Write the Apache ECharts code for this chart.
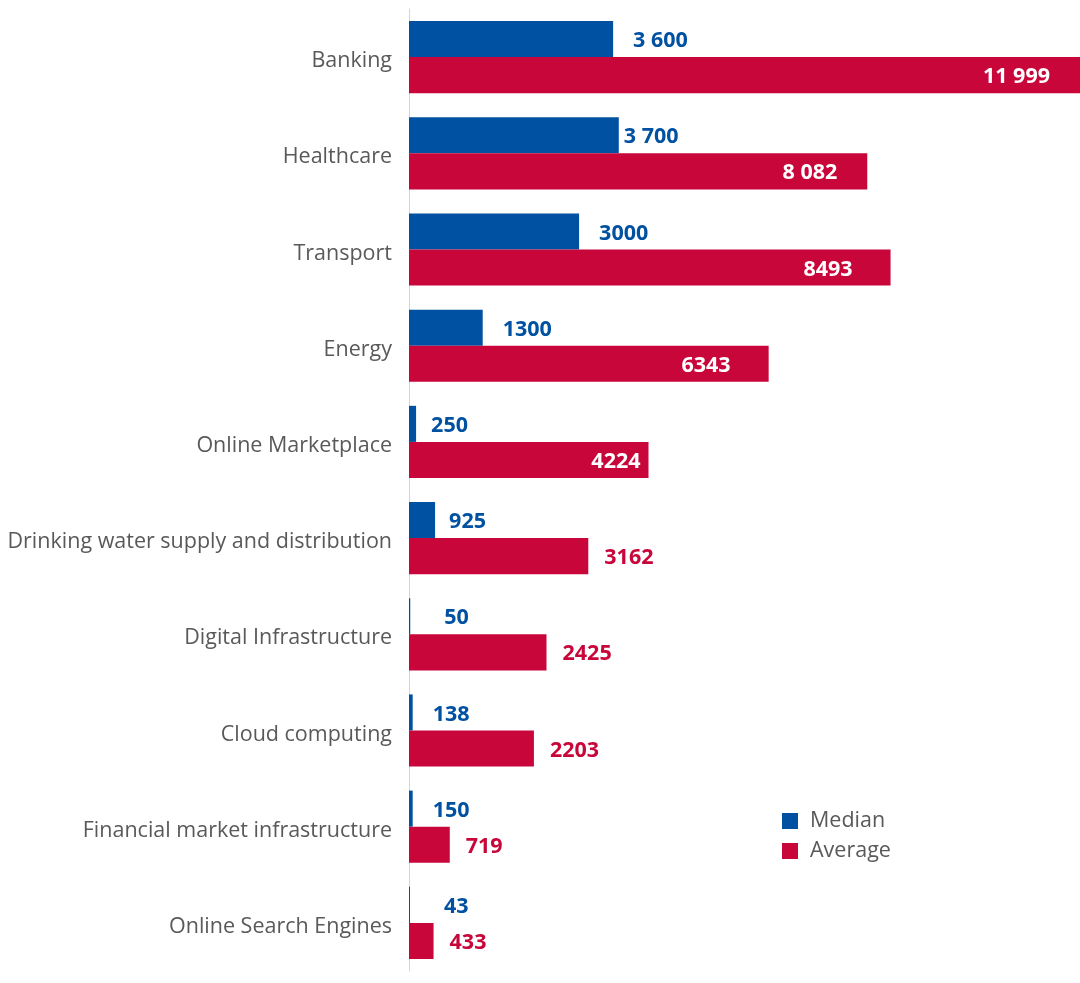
<!DOCTYPE html>
<html><head><meta charset="utf-8">
<script src="https://cdn.jsdelivr.net/npm/echarts@6/dist/echarts.min.js"></script>
<style>html,body{margin:0;padding:0;background:#fff}#c{width:1080px;height:983px}</style>
</head><body><div id="c"></div>
<script>
const categories = ['Banking','Healthcare','Transport','Energy','Online Marketplace','Drinking water supply and distribution','Digital Infrastructure','Cloud computing','Financial market infrastructure','Online Search Engines'];
// bar lengths as drawn in the picture
const medianValues = [3600,3700,3000,1300,125,460,22,65,65,18];
const averageValues = [11999,8082,8493,6343,4224,3162,2425,2203,719,433];
// printed data labels
const medianLabels = ['3 600','3 700','3000','1300','250','925','50','138','150','43'];
const averageLabels = ['11 999','8 082','8493','6343','4224','3162','2425','2203','719','433'];
const insideThreshold = 4000;

const BLUE = '#0051a1', RED = '#c8063a';
const FONT = '"Open Sans", "Noto Sans", sans-serif';
const FS = 21.5;
const medianLabelGap = {1: 5, 4: 15, 5: 14, 6: 34, 9: 34};
const averageInsideGap = {2: 38, 3: 38, 4: 8};

const medianData = medianValues.map((v,i)=>({
  value: v,
  label: { distance: medianLabelGap[i] !== undefined ? medianLabelGap[i] : 20 }
}));
const averageData = averageValues.map((v,i)=>{
  const inside = v >= insideThreshold;
  return {
    value: v,
    label: inside ? { position:'insideRight', color:'#fff', distance: averageInsideGap[i] !== undefined ? averageInsideGap[i] : 30 }
                  : { position:'right', color: RED, distance: 16 }
  };
});

const chart = echarts.init(document.getElementById('c'));
chart.setOption({
  animation: false,
  textStyle: { fontFamily: FONT },
  grid: { left: 409, right: 0, top: 9, bottom: 12, containLabel: false },
  legend: {
    orient: 'vertical', left: 782, top: 810, padding: 0,
    itemWidth: 16, itemHeight: 16, itemGap: 8,
    icon: 'rect',
    textStyle: { fontFamily: FONT, fontSize: FS, color: '#595959', lineHeight: 16, padding:[0,0,0,7] },
    data: ['Median','Average']
  },
  xAxis: { type: 'value', min: 0, max: 11834, show: false, splitLine: { show: false } },
  yAxis: {
    type: 'category', data: categories, inverse: true,
    axisLine: { show: true, lineStyle: { color: '#d4d4d4', width: 1 } },
    axisTick: { show: false },
    axisLabel: { margin: 17, formatter: v => '{c|' + v + '}',
      rich: { c: { fontFamily: FONT, fontSize: FS, color: '#595959', padding: [8,0,0,0] } } }
  },
  series: [
    { name: 'Median', type: 'bar', data: medianData, barGap: '0%', barCategoryGap: '25%',
      itemStyle: { color: BLUE }, clip: true,
      label: { show: true, position: 'right', color: BLUE, fontFamily: FONT, fontWeight: 'bold', fontSize: FS,
        offset: [0, 2], formatter: p => medianLabels[p.dataIndex] } },
    { name: 'Average', type: 'bar', data: averageData, barGap: '0%', barCategoryGap: '25%',
      itemStyle: { color: RED }, clip: true,
      label: { show: true, fontFamily: FONT, fontWeight: 'bold', fontSize: FS,
        offset: [0, 2], formatter: p => averageLabels[p.dataIndex] } }
  ]
});
</script></body></html>
